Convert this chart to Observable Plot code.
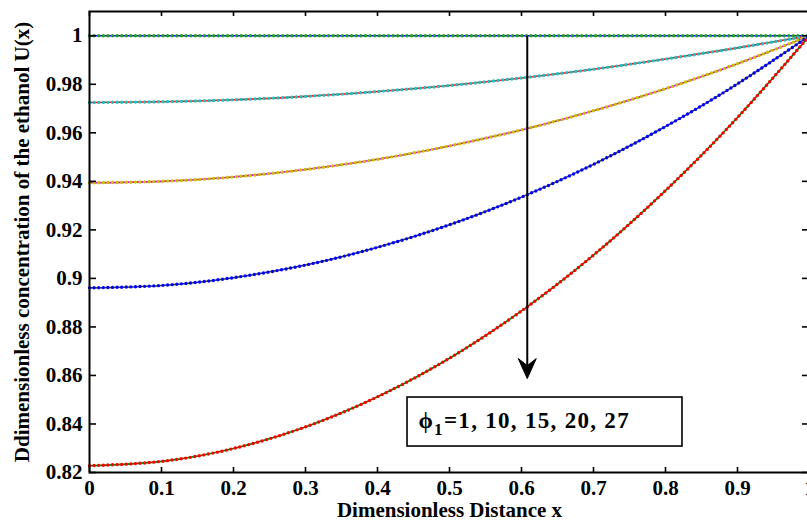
<!DOCTYPE html>
<html>
<head>
<meta charset="utf-8">
<script src="https://cdn.jsdelivr.net/npm/d3@7"></script>
<script src="https://cdn.jsdelivr.net/npm/@observablehq/plot@0.6"></script>
<style>
  html, body { margin: 0; padding: 0; background: #fff; overflow: hidden; }
  #chart svg { display: block; }
</style>
</head>
<body>
<div id="chart"></div>
<script>
// ---- data ----
const xs = [0, 0.1, 0.2, 0.3, 0.4, 0.5, 0.6, 0.7, 0.8, 0.9, 1.0];
const uPhi1  = [1, 1, 1, 1, 1, 1, 1, 1, 1, 1, 1];
const uPhi10 = [0.9725, 0.9728, 0.9736, 0.9750, 0.9770, 0.9795, 0.9826, 0.9862, 0.9904, 0.9950, 1.0];
const uPhi15 = [0.9394, 0.9400, 0.9418, 0.9449, 0.9491, 0.9546, 0.9612, 0.9691, 0.9782, 0.9885, 1.0];
const uPhi20 = [0.8961, 0.8971, 0.9003, 0.9055, 0.9128, 0.9221, 0.9335, 0.9470, 0.9626, 0.9802, 1.0];
const uPhi27 = [0.8228, 0.8246, 0.8299, 0.8388, 0.8512, 0.8671, 0.8866, 0.9096, 0.9362, 0.9663, 1.0];
const seriesNames = ["phi1", "phi10", "phi15", "phi20", "phi27"];
const seriesValues = [uPhi1, uPhi10, uPhi15, uPhi20, uPhi27];
const lineColors = ["#0000ff", "#ff0000", "#d000d0", "#404040", "#008000"];
const dotColors  = ["#20a020", "#20c0c0", "#c8c000", "#0000ff", "#ff0000"];

const xTicks = [0, 0.1, 0.2, 0.3, 0.4, 0.5, 0.6, 0.7, 0.8, 0.9, 1];
const xTickLabels = ["0", "0.1", "0.2", "0.3", "0.4", "0.5", "0.6", "0.7", "0.8", "0.9", "1"];
const yTicks = [0.82, 0.84, 0.86, 0.88, 0.90, 0.92, 0.94, 0.96, 0.98, 1.0];
const yTickLabels = ["0.82", "0.84", "0.86", "0.88", "0.9", "0.92", "0.94", "0.96", "0.98", "1"];

const xLabel = "Dimensionless Distance x";
const yLabel = "Ddimensionless concentration of the ethanol U(x)";
const legendText = "ϕ1=1, 10, 15, 20, 27";

// annotation (arrow + legend box), in data units
const arrowSpec = [{x: 0.608, y1: 1.0, y2: 0.8587}];
const legendBox = [{x1: 0.4417, x2: 0.8236, y1: 0.8307, y2: 0.8509}];
const legendAnchor = [{x: 0.4569, y: 0.8412}];

// ---- build table ----
const rows = [];
seriesValues.forEach((vals, s) => {
  vals.forEach((v, i) => rows.push({series: seriesNames[s], x: xs[i], u: v}));
});

const W = 807, H = 522;
const mL = 89, mR = -2, mT = 11, mB = 50;
const xDomain = [0, 1], yDomain = [0.82, 1.01];
const pxPerX = (W - mL - mR) / (xDomain[1] - xDomain[0]);
const pxPerY = (H - mT - mB) / (yDomain[1] - yDomain[0]);
const xTickLen = 5 / pxPerY;
const yTickLen = 7 / pxPerX;

const font = "'Liberation Serif', 'Times New Roman', serif";

const arrowHead = {
  draw(ctx) {
    ctx.moveTo(0, 0);
    ctx.lineTo(-9, -20);
    ctx.lineTo(0, -13);
    ctx.lineTo(9, -20);
    ctx.closePath();
  }
};

const marks = [];
seriesNames.forEach((name, s) => {
  marks.push(Plot.line(rows.filter(d => d.series === name), {
    x: "x", y: "u", stroke: lineColors[s], strokeWidth: 1.6, curve: "natural"
  }));
});
seriesNames.forEach((name, s) => {
  marks.push(Plot.line(rows.filter(d => d.series === name), {
    x: "x", y: "u", stroke: dotColors[s], strokeWidth: 3.4,
    strokeDasharray: "0,4.6", strokeLinecap: "round", curve: "natural"
  }));
});

marks.push(Plot.frame({stroke: "#000", strokeWidth: 2}));
marks.push(Plot.ruleX(xTicks, {x: d => d, y1: yDomain[0], y2: yDomain[0] + xTickLen, stroke: "#000", strokeWidth: 1.6}));
marks.push(Plot.ruleX(xTicks, {x: d => d, y1: yDomain[1], y2: yDomain[1] - xTickLen, stroke: "#000", strokeWidth: 1.6}));
marks.push(Plot.ruleY(yTicks, {y: d => d, x1: xDomain[0], x2: xDomain[0] + yTickLen, stroke: "#000", strokeWidth: 1.6}));
marks.push(Plot.ruleY(yTicks, {y: d => d, x1: xDomain[1], x2: xDomain[1] - yTickLen, stroke: "#000", strokeWidth: 1.6}));

marks.push(Plot.axisX(xTicks, {
  tickSize: 0, tickPadding: 8, fontSize: 21, fontWeight: "bold", label: null,
  tickFormat: d => xTickLabels[xTicks.indexOf(d)]
}));
marks.push(Plot.axisY(yTicks, {
  tickSize: 0, tickPadding: 7, fontSize: 21, fontWeight: "bold", label: null,
  tickFormat: d => yTickLabels[yTicks.indexOf(d)]
}));

marks.push(Plot.text([xLabel], {
  text: d => d, frameAnchor: "bottom", dy: 38, fontSize: 21, fontWeight: "bold",
  textAnchor: "middle", lineAnchor: "middle"
}));
marks.push(Plot.text([yLabel], {
  text: d => d, frameAnchor: "left", dx: -67, rotate: -90, fontSize: 21, fontWeight: "bold",
  textAnchor: "middle", lineAnchor: "middle"
}));

marks.push(Plot.link(arrowSpec, {x1: "x", x2: "x", y1: "y1", y2: d => d.y2 + 8 / pxPerY, stroke: "#000", strokeWidth: 2}));
marks.push(Plot.dot(arrowSpec, {x: "x", y: "y2", symbol: arrowHead, fill: "#000", stroke: "#000", strokeWidth: 1, r: 5}));

marks.push(Plot.rect(legendBox, {x1: "x1", x2: "x2", y1: "y1", y2: "y2", fill: "#fff", stroke: "#000", strokeWidth: 1.6}));
marks.push(Plot.text(legendAnchor, {
  x: "x", y: "y", text: () => legendText, textAnchor: "start", lineAnchor: "middle",
  fontSize: 23, fontWeight: "bold"
}));

const svg = Plot.plot({
  width: W, height: H,
  marginLeft: mL, marginRight: mR, marginTop: mT, marginBottom: mB,
  x: {domain: xDomain, range: [mL, W - mR], label: null, axis: null},
  y: {domain: yDomain, range: [H - mB, mT], label: null, axis: null},
  style: {fontFamily: font, fontWeight: "bold", color: "#000", background: "#fff", overflow: "hidden"},
  marks
});

d3.select(svg).selectAll("text").each(function() {
  if (this.textContent === legendText) {
    const t = d3.select(this);
    t.text(null).style("letter-spacing", "1.3px");
    t.append("tspan").text("ϕ");
    t.append("tspan").attr("dy", 7).attr("font-size", 17).text("1");
    t.append("tspan").attr("dy", -7).text("=1, 10, 15, 20, 27");
  }
});

document.getElementById("chart").appendChild(svg);
</script>
</body>
</html>
